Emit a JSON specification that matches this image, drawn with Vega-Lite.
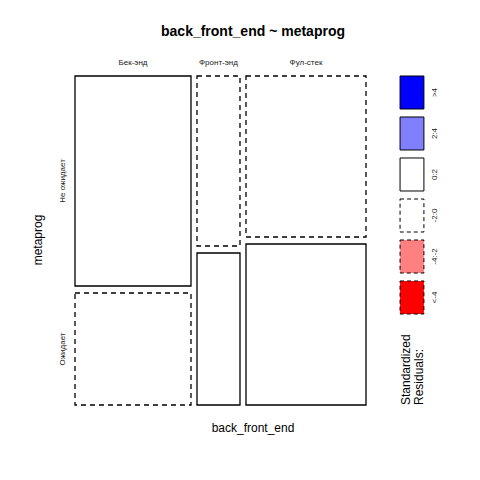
{
  "$schema": "https://vega.github.io/schema/vega-lite/v6.json",
  "width": 291,
  "height": 329,
  "autosize": "none",
  "padding": {"left": 75, "top": 76, "right": 114, "bottom": 75},
  "background": "white",
  "config": {"view": {"stroke": null}, "font": "Liberation Sans"},
  "datasets": {
    "cells": [
      {"front": "Бек-энд", "metaprog": "Не ожидает", "x0": 0, "x1": 0.3986, "y0": 0.3617, "y1": 1, "resid": "0:2"},
      {"front": "Бек-энд", "metaprog": "Ожидает", "x0": 0, "x1": 0.3986, "y0": 0, "y1": 0.3404, "resid": "-2:0"},
      {"front": "Фронт-энд", "metaprog": "Не ожидает", "x0": 0.4192, "x1": 0.567, "y0": 0.4833, "y1": 1, "resid": "-2:0"},
      {"front": "Фронт-энд", "metaprog": "Ожидает", "x0": 0.4192, "x1": 0.567, "y0": 0, "y1": 0.462, "resid": "0:2"},
      {"front": "Фул-стек", "metaprog": "Не ожидает", "x0": 0.5876, "x1": 1, "y0": 0.5106, "y1": 1, "resid": "-2:0"},
      {"front": "Фул-стек", "metaprog": "Ожидает", "x0": 0.5876, "x1": 1, "y0": 0, "y1": 0.4894, "resid": "0:2"}
    ],
    "legend": [
      {"resid": ">4", "x0": 1.117, "x1": 1.199, "y0": 0.8997, "y1": 1.0, "lx": 1.237, "sign": "pos"},
      {"resid": "2:4", "x0": 1.117, "x1": 1.199, "y0": 0.7751, "y1": 0.8754, "lx": 1.237, "sign": "pos"},
      {"resid": "0:2", "x0": 1.117, "x1": 1.199, "y0": 0.6505, "y1": 0.7508, "lx": 1.237, "sign": "pos"},
      {"resid": "-2:0", "x0": 1.117, "x1": 1.199, "y0": 0.5258, "y1": 0.6261, "lx": 1.237, "sign": "neg"},
      {"resid": "-4:-2", "x0": 1.117, "x1": 1.199, "y0": 0.4012, "y1": 0.5015, "lx": 1.237, "sign": "neg"},
      {"resid": "<-4", "x0": 1.117, "x1": 1.199, "y0": 0.2766, "y1": 0.3769, "lx": 1.237, "sign": "neg"}
    ],
    "cols": [
      {"label": "Бек-энд", "x": 0.1993, "y": 1.0395},
      {"label": "Фронт-энд", "x": 0.4931, "y": 1.0395},
      {"label": "Фул-стек", "x": 0.7938, "y": 1.0395}
    ],
    "rows": [
      {"label": "Не ожидает", "x": -0.0412, "y": 0.6809},
      {"label": "Ожидает", "x": -0.0412, "y": 0.1702}
    ]
  },
  "layer": [
    {
      "data": {"name": "cells"},
      "transform": [{"filter": "indexof(datum.resid, '-') != 0"}],
      "mark": {"type": "rect", "stroke": "black", "strokeWidth": 1.3},
      "encoding": {
        "x": {"field": "x0", "type": "quantitative", "scale": {"domain": [0, 1], "nice": false, "zero": false}, "axis": null},
        "x2": {"field": "x1"},
        "y": {"field": "y0", "type": "quantitative", "scale": {"domain": [0, 1], "nice": false, "zero": false}, "axis": null},
        "y2": {"field": "y1"},
        "fill": {"field": "resid", "type": "nominal", "legend": null,
          "scale": {"domain": [">4", "2:4", "0:2", "-2:0", "-4:-2", "<-4"], "range": ["#0000FF", "#8080FF", "#FFFFFF", "#FFFFFF", "#FF8080", "#FF0000"]}}
      }
    },
    {
      "data": {"name": "cells"},
      "transform": [{"filter": "indexof(datum.resid, '-') == 0"}],
      "mark": {"type": "rect", "stroke": "black", "strokeWidth": 1.3, "strokeDash": [5, 4]},
      "encoding": {
        "x": {"field": "x0", "type": "quantitative"},
        "x2": {"field": "x1"},
        "y": {"field": "y0", "type": "quantitative"},
        "y2": {"field": "y1"},
        "fill": {"field": "resid", "type": "nominal", "legend": null}
      }
    },
    {
      "data": {"name": "legend"},
      "transform": [{"filter": "datum.sign == 'pos'"}],
      "mark": {"type": "rect", "stroke": "black", "strokeWidth": 1},
      "encoding": {
        "x": {"field": "x0", "type": "quantitative"},
        "x2": {"field": "x1"},
        "y": {"field": "y0", "type": "quantitative"},
        "y2": {"field": "y1"},
        "fill": {"field": "resid", "type": "nominal", "legend": null}
      }
    },
    {
      "data": {"name": "legend"},
      "transform": [{"filter": "datum.sign == 'neg'"}],
      "mark": {"type": "rect", "stroke": "black", "strokeWidth": 1, "strokeDash": [4, 3]},
      "encoding": {
        "x": {"field": "x0", "type": "quantitative"},
        "x2": {"field": "x1"},
        "y": {"field": "y0", "type": "quantitative"},
        "y2": {"field": "y1"},
        "fill": {"field": "resid", "type": "nominal", "legend": null}
      }
    },
    {
      "data": {"name": "legend"},
      "transform": [{"calculate": "(datum.y0 + datum.y1) / 2", "as": "ym"}],
      "mark": {"type": "text", "angle": 270, "fontSize": 8, "color": "#222", "align": "center", "baseline": "middle"},
      "encoding": {
        "x": {"field": "lx", "type": "quantitative"},
        "y": {"field": "ym", "type": "quantitative"},
        "text": {"field": "resid"}
      }
    },
    {
      "data": {"name": "cols"},
      "mark": {"type": "text", "fontSize": 8, "color": "#222", "align": "center", "baseline": "middle"},
      "encoding": {
        "x": {"field": "x", "type": "quantitative"},
        "y": {"field": "y", "type": "quantitative"},
        "text": {"field": "label"}
      }
    },
    {
      "data": {"name": "rows"},
      "mark": {"type": "text", "angle": 270, "fontSize": 8, "color": "#222", "align": "center", "baseline": "middle"},
      "encoding": {
        "x": {"field": "x", "type": "quantitative"},
        "y": {"field": "y", "type": "quantitative"},
        "text": {"field": "label"}
      }
    },
    {
      "data": {"values": [{"label": "back_front_end ~ metaprog", "x": 0.6117, "y": 1.1337}]},
      "mark": {"type": "text", "fontSize": 14, "fontWeight": "bold", "color": "black", "align": "center", "baseline": "middle"},
      "encoding": {
        "x": {"field": "x", "type": "quantitative"},
        "y": {"field": "y", "type": "quantitative"},
        "text": {"field": "label"}
      }
    },
    {
      "data": {"values": [{"label": "back_front_end", "x": 0.6117, "y": -0.0699}]},
      "mark": {"type": "text", "fontSize": 12, "color": "black", "align": "center", "baseline": "middle"},
      "encoding": {
        "x": {"field": "x", "type": "quantitative"},
        "y": {"field": "y", "type": "quantitative"},
        "text": {"field": "label"}
      }
    },
    {
      "data": {"values": [{"label": "metaprog", "x": -0.127, "y": 0.5015}]},
      "mark": {"type": "text", "angle": 270, "fontSize": 12, "color": "black", "align": "center", "baseline": "middle"},
      "encoding": {
        "x": {"field": "x", "type": "quantitative"},
        "y": {"field": "y", "type": "quantitative"},
        "text": {"field": "label"}
      }
    },
    {
      "data": {"values": [{"label": ["Standardized", "Residuals:"], "x": 1.1375, "y": 0}]},
      "mark": {"type": "text", "angle": 270, "fontSize": 12, "color": "black", "align": "left", "baseline": "middle", "lineHeight": 13},
      "encoding": {
        "x": {"field": "x", "type": "quantitative"},
        "y": {"field": "y", "type": "quantitative"},
        "text": {"field": "label"}
      }
    }
  ]
}
